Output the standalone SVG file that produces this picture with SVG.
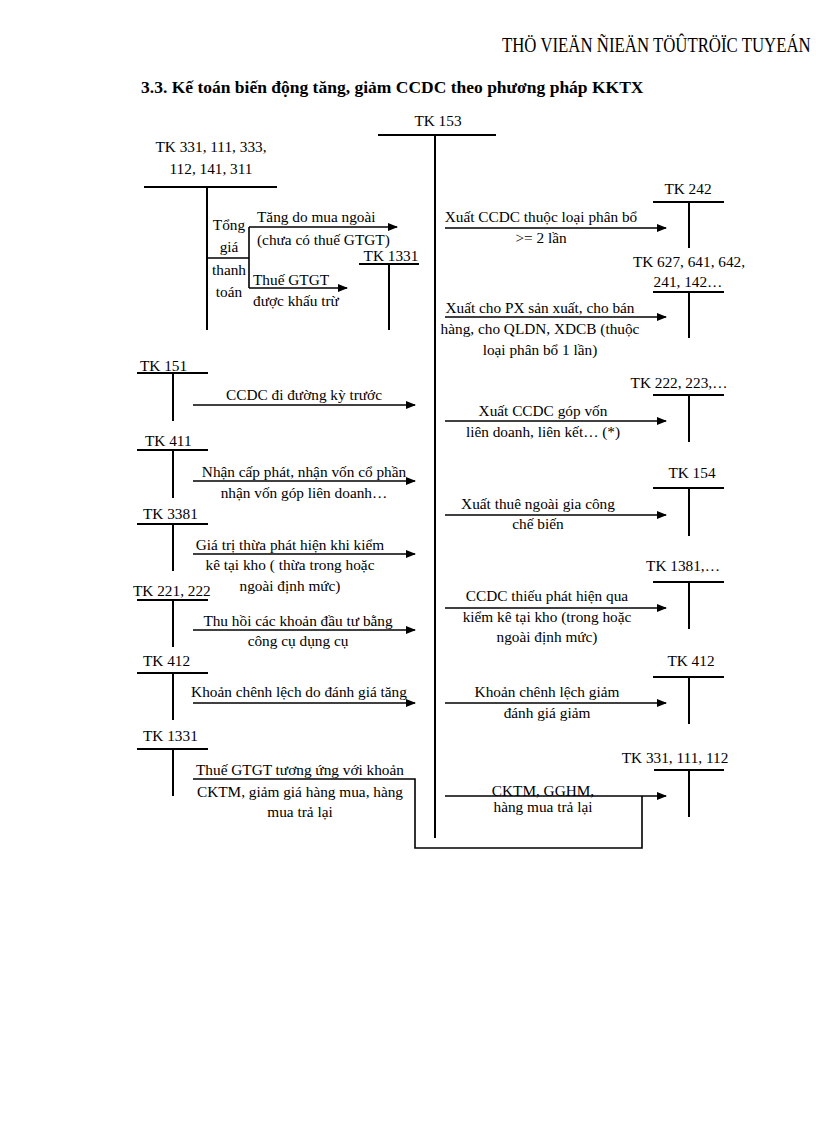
<svg xmlns="http://www.w3.org/2000/svg" width="816" height="1123" viewBox="0 0 816 1123">
<style>
text{font-family:"Liberation Serif","Times New Roman",serif;font-size:15.3px;fill:#000}
.c{text-anchor:middle}
.t{stroke:#000;stroke-width:2;fill:none}
.a{stroke:#000;stroke-width:1.6;fill:none}
.h{font-size:20px}
.ttl{font-size:17.5px;font-weight:bold}
</style>
<defs>
<marker id="ar" markerWidth="10" markerHeight="8" refX="9" refY="4" orient="auto" markerUnits="userSpaceOnUse">
<path d="M0,0 L10,4 L0,8 z" fill="#000"/>
</marker>
</defs>
<rect width="816" height="1123" fill="#fff"/>
<text class="h" transform="translate(502,52) scale(0.84,1)" x="0" y="0">THÖ VIEÄN ÑIEÄN TÖÛTRÖÏC TUYEÁN</text>
<text class="ttl" x="141" y="93">3.3. Kế toán biến động tăng, giảm CCDC theo phương pháp KKTX</text>

<g id="tk153">
<text class="c" x="438" y="126">TK 153</text>
<path class="t" d="M378,135 H496 M435,135 V838"/>
</g>
<g id="tk331-111-333">
<text class="c" x="211" y="152">TK 331, 111, 333,</text>
<text class="c" x="211" y="174">112, 141, 311</text>
<path class="t" d="M144,187 H277 M207,187 V330"/>
<text class="c" x="229" y="230">Tổng</text>
<text class="c" x="229" y="252">giá</text>
<text class="c" x="229" y="275">thanh</text>
<text class="c" x="229" y="297">toán</text>
</g>
<g id="tk1331a">
<text class="c" x="391" y="261">TK 1331</text>
<path class="t" d="M359,264 H419 M389,264 V330"/>
</g>
<g id="tk242">
<text class="c" x="688" y="194">TK 242</text>
<path class="t" d="M653,202 H724 M689,202 V248"/>
</g>
<g id="tk627">
<text class="c" x="689" y="267">TK 627, 641, 642,</text>
<text class="c" x="688" y="287">241, 142…</text>
<path class="t" d="M653,292 H724 M689,292 V338"/>
</g>
<g id="tk151">
<text x="140" y="371">TK 151</text>
<path class="t" d="M137,373 H208 M173,373 V421"/>
</g>
<g id="tk222">
<text class="c" x="679" y="388">TK 222, 223,…</text>
<path class="t" d="M653,395 H724 M689,395 V442"/>
</g>
<g id="tk411">
<text x="145" y="446">TK 411</text>
<path class="t" d="M137,450 H208 M173,450 V498"/>
</g>
<g id="tk154">
<text class="c" x="692" y="478">TK 154</text>
<path class="t" d="M653,488 H724 M689,488 V536"/>
</g>
<g id="tk3381">
<text x="143" y="519">TK 3381</text>
<path class="t" d="M137,524 H208 M173,524 V571"/>
</g>
<g id="tk221">
<text x="133" y="596">TK 221, 222</text>
<path class="t" d="M137,600 H208 M173,600 V647"/>
</g>
<g id="tk1381">
<text class="c" x="683" y="571">TK 1381,…</text>
<path class="t" d="M653,582 H724 M689,582 V629"/>
</g>
<g id="tk412a">
<text x="143" y="666">TK 412</text>
<path class="t" d="M137,673 H208 M173,673 V720"/>
</g>
<g id="tk412b">
<text class="c" x="691" y="666">TK 412</text>
<path class="t" d="M653,677 H724 M689,677 V724"/>
</g>
<g id="tk1331b">
<text x="143" y="741">TK 1331</text>
<path class="t" d="M137,749 H208 M173,749 V796"/>
</g>
<g id="tk331-111-112">
<text class="c" x="675" y="763">TK 331, 111, 112</text>
<path class="t" d="M654,770 H724 M689,770 V817"/>
</g>

<g id="connectors">
<path class="a" d="M207,258 H249 M249,227 V288"/>
<path class="a" d="M249,227 H397" marker-end="url(#ar)"/>
<path class="a" d="M249,288 H347" marker-end="url(#ar)"/>
<path class="a" d="M445,228 H666" marker-end="url(#ar)"/>
<path class="a" d="M445,317 H666" marker-end="url(#ar)"/>
<path class="a" d="M193,405 H415" marker-end="url(#ar)"/>
<path class="a" d="M445,421 H666" marker-end="url(#ar)"/>
<path class="a" d="M193,481 H415" marker-end="url(#ar)"/>
<path class="a" d="M445,515 H666" marker-end="url(#ar)"/>
<path class="a" d="M193,554 H415" marker-end="url(#ar)"/>
<path class="a" d="M445,608 H666" marker-end="url(#ar)"/>
<path class="a" d="M193,630 H415" marker-end="url(#ar)"/>
<path class="a" d="M193,703 H415" marker-end="url(#ar)"/>
<path class="a" d="M445,703 H666" marker-end="url(#ar)"/>
<path class="a" d="M193,779 H415 V848 H642 V796"/>
<path class="a" d="M445,796 H666" marker-end="url(#ar)"/>
</g>

<g id="labels">
<text x="257" y="222">Tăng do mua ngoài</text>
<text x="257" y="245">(chưa có thuế GTGT)</text>
<text x="253" y="285">Thuế GTGT</text>
<text x="253" y="306">được khấu trừ</text>
<text class="c" x="541" y="222">Xuất CCDC thuộc loại phân bổ</text>
<text class="c" x="541" y="243">&gt;= 2 lần</text>
<text class="c" x="540" y="313">Xuất cho PX sản xuất, cho bán</text>
<text class="c" x="540" y="334">hàng, cho QLDN, XDCB (thuộc</text>
<text class="c" x="540" y="355">loại phân bổ 1 lần)</text>
<text class="c" x="304" y="400">CCDC  đi đường kỳ trước</text>
<text class="c" x="543" y="416">Xuất CCDC góp vốn</text>
<text class="c" x="543" y="437">liên doanh, liên kết… (*)</text>
<text class="c" x="304" y="477">Nhận cấp phát, nhận vốn cổ phần</text>
<text class="c" x="304" y="498">nhận vốn góp liên doanh…</text>
<text class="c" x="538" y="509">Xuất thuê ngoài gia công</text>
<text class="c" x="538" y="529">chế biến</text>
<text class="c" x="290" y="550">Giá trị thừa phát hiện khi kiểm</text>
<text class="c" x="290" y="570">kê tại kho ( thừa trong hoặc</text>
<text class="c" x="290" y="591">ngoài định mức)</text>
<text class="c" x="547" y="601">CCDC thiếu phát hiện qua</text>
<text class="c" x="547" y="622">kiểm kê tại kho (trong hoặc</text>
<text class="c" x="547" y="642">ngoài định mức)</text>
<text class="c" x="298" y="626">Thu hồi các khoản đầu tư bằng</text>
<text class="c" x="298" y="646">công cụ dụng cụ</text>
<text class="c" x="299" y="697">Khoản chênh lệch do đánh giá tăng</text>
<text class="c" x="547" y="697">Khoản chênh lệch giảm</text>
<text class="c" x="547" y="718">đánh giá giảm</text>
<text class="c" x="300" y="775">Thuế GTGT tương ứng với khoản</text>
<text class="c" x="300" y="797">CKTM, giảm giá hàng mua, hàng</text>
<text class="c" x="300" y="817">mua trả lại</text>
<text class="c" x="543" y="796">CKTM, GGHM,</text>
<text class="c" x="543" y="812">hàng mua trả lại</text>
</g>
</svg>
